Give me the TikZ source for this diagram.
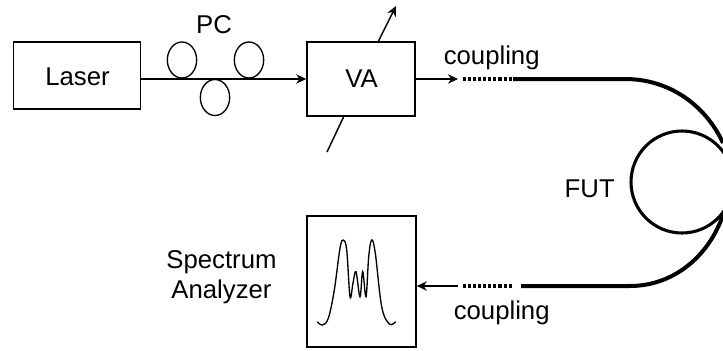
\documentclass[tikz,border=0pt]{standalone}
\usepackage{fontspec}
\setmainfont{Liberation Sans}
\usetikzlibrary{arrows.meta,shapes.geometric}
\tikzset{
 boxnode/.style={draw=black,line width=1.25pt,inner sep=0pt,minimum width=#1*0.75pt},
 lbl/.style={font=\fontsize{19.3pt}{22.5pt}\selectfont,inner sep=0pt,text=black,align=center},
 thinline/.style={line width=1.1pt},
 fibre/.style={line width=3pt},
 dotline/.style={line width=2.4pt,dash pattern=on 2.3pt off 1.5pt},
 tip/.style={-{Stealth[length=7.5pt,width=7pt]}},
 loopc/.style={draw=black,line width=1pt,ellipse,minimum width=22pt,minimum height=27pt,inner sep=0pt}
}
\begin{document}
\begin{tikzpicture}[x=0.75pt,y=-0.75pt]
\useasboundingbox (0,0) rectangle (723,350);
\clip (0,0) rectangle (723,350);
\node[boxnode=127,minimum height=50.25pt] (laser) at (77,75.5) {};
\node[lbl] (lasertxt) at (77.5,76.5) {Laser};
\node[boxnode=108,minimum height=55.5pt] (va) at (361,79) {};
\node[lbl] (vatxt) at (361.5,79) {VA};
\node[boxnode=109,minimum height=98.25pt] (sa) at (361.5,281.5) {};
\node[lbl] (pc) at (214,24.5) {PC};
\node[lbl] (c1) at (491.7,57.5) {coupling};
\node[lbl] (c2) at (501.7,313) {coupling};
\node[lbl] (fut) at (589.7,188.5) {FUT};
\node[lbl] (spec) at (221.5,277) {Spectrum\\Analyzer};
\node[loopc] (p1) at (182,60) {};
\node[loopc] (p2) at (215,97.5) {};
\node[loopc] (p3) at (249,60) {};
\coordinate (l1) at (laser.east |- va.west);
\draw[thinline,tip] (l1) -- (va.west);
\coordinate (vb) at (327,152);
\coordinate (vt) at (344,116);
\coordinate (vu) at (378,42);
\coordinate (ve) at (396,6);
\draw[thinline] (vb) -- (vt);
\draw[thinline,tip] (vu) -- (ve);
\coordinate (d1) at (458,79);
\coordinate (d2) at (463,79);
\coordinate (d3) at (513,79);
\coordinate (f1) at (625,79);
\coordinate (f2) at (723,143);
\draw[thinline,tip] (va.east) -- (d1);
\draw[dotline] (d2) -- (d3);
\draw[fibre] (d3) -- (f1) .. controls (670,79) and (706,106) .. (f2);
\coordinate (e1) at (458,286);
\coordinate (e2) at (463,286);
\coordinate (e3) at (512,286);
\coordinate (e4) at (521,286);
\coordinate (g1) at (630,286);
\coordinate (g2) at (723,215);
\draw[thinline,tip] (e1) -- (e1 -| sa.east);
\draw[dotline] (e2) -- (e3);
\draw[fibre] (e4) -- (g1) .. controls (672,286) and (708,258) .. (g2);
\node[draw=black,line width=2.3pt,circle,minimum size=76.5pt,inner sep=0pt] (coil) at (682,182) {};
\draw[line width=1pt,smooth,tension=0.6] plot coordinates {
 (317.3,321.7) (322.3,325) (328.3,318.3) (334.3,290) (340,248.3) (343.3,240)
 (346.7,250) (350,296.7) (353,283) (356,271.7) (360,296.7) (362.7,271.7)
 (366,296.7) (368.7,256.7) (371.7,240) (375.3,253.3) (381.7,306.7) (389.3,324) (395.7,321.7)};
\end{tikzpicture}
\end{document}
